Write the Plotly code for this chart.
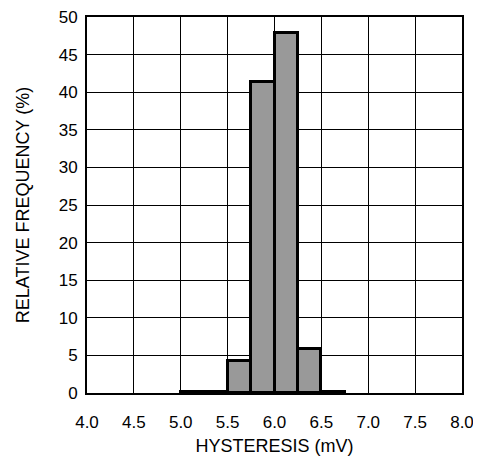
import plotly.graph_objects as go

bin_start = [5.0, 5.25, 5.5, 5.75, 6.0, 6.25, 6.5]
frequency = [0.1, 0.2, 4.2, 41.4, 47.9, 5.8, 0.1]
bin_width = 0.25
x_ticks = [4.0, 4.5, 5.0, 5.5, 6.0, 6.5, 7.0, 7.5, 8.0]

fig = go.Figure(go.Bar(
    x=bin_start, y=frequency, width=bin_width, offset=0,
    marker=dict(color="#999999", line=dict(color="black", width=3)),
))

tick_font = dict(family="Liberation Sans, Arial, sans-serif", size=17, color="black")
title_font = dict(family="Liberation Sans, Arial, sans-serif", size=18, color="black")
fig.update_layout(
    width=473, height=448,
    margin=dict(l=79, r=19, t=9, b=63),
    plot_bgcolor="white", paper_bgcolor="white",
    font=tick_font, showlegend=False, bargap=0,
    xaxis=dict(range=[4.0, 8.0], tickvals=x_ticks, ticktext=[f"{v:.1f}" for v in x_ticks],
               tickfont=tick_font, automargin=False, ticklabeloverflow="allow",
               showgrid=True, gridcolor="black", gridwidth=1,
               showline=True, linecolor="black", linewidth=2, mirror=True,
               ticks="outside", ticklen=13, tickcolor="rgba(0,0,0,0)",
               title=dict(text="HYSTERESIS (mV)", font=title_font, standoff=12),
               zeroline=False),
    yaxis=dict(range=[0, 50], dtick=5, tickfont=tick_font, automargin=False,
               ticklabeloverflow="allow",
               showgrid=True, gridcolor="black", gridwidth=1,
               showline=True, linecolor="black", linewidth=2, mirror=True,
               ticks="outside", ticklen=4, tickcolor="rgba(0,0,0,0)",
               title=dict(text="RELATIVE FREQUENCY (%)", font=title_font, standoff=24),
               zeroline=False),
)
fig.write_html("out.html")
